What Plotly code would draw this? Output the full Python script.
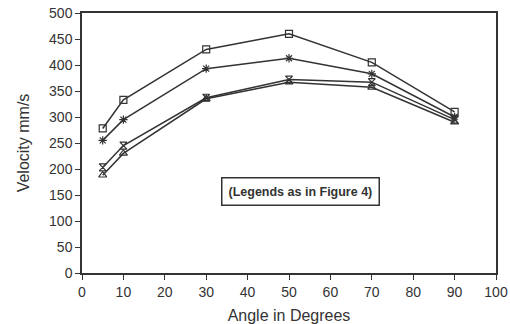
import plotly.graph_objects as go

angles = [5, 10, 30, 50, 70, 90]
series_a = [278, 333, 430, 460, 405, 310]   # open squares
series_b = [255, 295, 393, 413, 383, 300]   # asterisks
series_c = [203, 245, 337, 372, 367, 295]   # hourglass
series_d = [188, 230, 335, 367, 357, 290]   # triangles
x_ticks = list(range(0, 101, 10))
y_ticks = list(range(0, 501, 50))

col = "#333333"
fig = go.Figure()
for ys, sym in [(series_a, "square-open"), (series_b, "asterisk-open"),
                (series_c, "hourglass-open"), (series_d, "triangle-up-open")]:
    fig.add_trace(go.Scatter(x=angles, y=ys, mode="lines+markers",
                             line=dict(color=col, width=1.5),
                             marker=dict(symbol=sym, size=7, color=col,
                                         line=dict(color=col, width=1.2)),
                             showlegend=False))

axis_common = dict(showgrid=False, zeroline=False, showline=True, mirror=True,
                   linecolor=col, linewidth=1.5, ticks="outside", ticklen=5,
                   tickcolor=col, automargin=False,
                   tickfont=dict(family="Liberation Sans, Arial", size=14, color="#333"))
fig.update_xaxes(range=[0, 100], tickvals=x_ticks, **axis_common,
                 title=dict(text="Angle in Degrees",
                            font=dict(family="Liberation Sans, Arial", size=16, color="#333")))
fig.update_yaxes(range=[0, 500], tickvals=y_ticks, **axis_common,
                 title=dict(text="Velocity mm/s",
                            font=dict(family="Liberation Sans, Arial", size=16, color="#333")))

fig.add_annotation(x=52.8, y=156, xref="x", yref="y", showarrow=False,
                   text="<b>(Legends as in Figure 4)</b>",
                   font=dict(family="Liberation Sans, Arial", size=12.5, color="#333"),
                   bordercolor=col, borderwidth=1.5, borderpad=6, bgcolor="white")

fig.update_layout(width=510, height=324, margin=dict(l=82, r=14, t=13, b=51),
                  paper_bgcolor="white", plot_bgcolor="white")
fig.write_html("out.html")
